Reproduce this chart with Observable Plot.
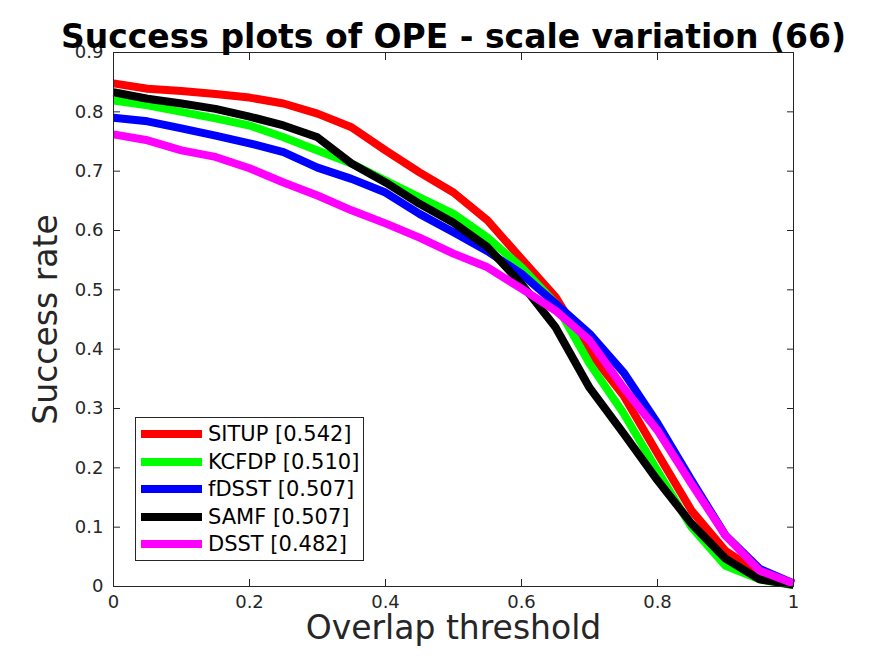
<!DOCTYPE html>
<html>
<head>
<meta charset="utf-8">
<script src="https://cdn.jsdelivr.net/npm/d3@7"></script>
<script src="https://cdn.jsdelivr.net/npm/@observablehq/plot@0.6"></script>
<style>
  html, body { margin: 0; padding: 0; background: #fff; }
  #wrap { position: relative; width: 875px; height: 656px; font-family: "DejaVu Sans", sans-serif; }
  #legend { position: absolute; left: 135px; top: 417px; width: 227px; height: 142px; border: 1px solid #262626; background: #fff; box-sizing: content-box; }
  .row { position: absolute; left: 0; height: 28px; display: flex; align-items: center; }
  .sw { width: 61px; height: 8px; margin-left: 5px; margin-right: 6px; }
  .lb { font-size: 21px; color: #000; white-space: nowrap; }
</style>
</head>
<body>
<div id="wrap"></div>
<script>
const thresholds = [0,0.05,0.1,0.15,0.2,0.25,0.3,0.35,0.4,0.45,0.5,0.55,0.6,0.65,0.7,0.75,0.8,0.85,0.9,0.95,1];
const trackers = ["SITUP","KCFDP","fDSST","SAMF","DSST"];
const scores = ["0.542","0.510","0.507","0.507","0.482"];
const colors = ["#ff0000","#00ff00","#0000ff","#000000","#ff00ff"];
const SITUP = [0.848,0.839,0.835,0.830,0.824,0.814,0.797,0.774,0.735,0.698,0.664,0.617,0.552,0.488,0.395,0.322,0.224,0.128,0.060,0.022,0.003];
const KCFDP = [0.819,0.811,0.800,0.789,0.777,0.757,0.735,0.713,0.684,0.656,0.628,0.588,0.538,0.477,0.376,0.292,0.195,0.100,0.035,0.012,0.002];
const fDSST = [0.790,0.784,0.772,0.760,0.747,0.732,0.706,0.687,0.664,0.628,0.597,0.565,0.527,0.477,0.426,0.361,0.275,0.179,0.086,0.030,0.005];
const SAMF  = [0.833,0.822,0.814,0.805,0.792,0.777,0.757,0.713,0.681,0.645,0.613,0.572,0.510,0.437,0.335,0.258,0.179,0.106,0.047,0.012,0.003];
const DSST  = [0.762,0.752,0.735,0.724,0.705,0.681,0.659,0.634,0.612,0.588,0.561,0.538,0.502,0.465,0.415,0.335,0.263,0.173,0.086,0.027,0.005];
const xTicks = [0,0.2,0.4,0.6,0.8,1];
const yTicks = [0,0.1,0.2,0.3,0.4,0.5,0.6,0.7,0.8,0.9];
const title = "Success plots of OPE - scale variation (66)";
const xLabel = "Overlap threshold";
const yLabel = "Success rate";

const series = [SITUP, KCFDP, fDSST, SAMF, DSST];
const data = [];
trackers.forEach((t, i) => series[i].forEach((v, j) => data.push({tracker: t, x: thresholds[j], y: v})));

const axisColor = "#262626";
const chart = Plot.plot({
  width: 875, height: 656,
  marginTop: 52, marginLeft: 113, marginRight: 82, marginBottom: 70,
  style: {fontFamily: "DejaVu Sans, sans-serif", background: "#fff", overflow: "visible"},
  x: {domain: [0, 1]},
  y: {domain: [0, 0.9]},
  color: {domain: trackers, range: colors},
  marks: [
    Plot.line(data, {x: "x", y: "y", z: "tracker", stroke: "tracker", strokeWidth: 8, strokeLinejoin: "round", strokeLinecap: "butt"}),
    Plot.frame({stroke: axisColor, strokeWidth: 1}),
    Plot.axisX(xTicks, {anchor: "bottom", tickSize: -7, tickFormat: () => "", stroke: axisColor, label: null}),
    Plot.axisX(xTicks, {anchor: "top", tickSize: -7, tickFormat: () => "", stroke: axisColor, label: null}),
    Plot.axisY(yTicks, {anchor: "left", tickSize: -7, tickFormat: () => "", stroke: axisColor, label: null}),
    Plot.axisY(yTicks, {anchor: "right", tickSize: -7, tickFormat: () => "", stroke: axisColor, label: null}),
    Plot.text(xTicks, {x: d => d, frameAnchor: "bottom", dy: 21, text: d => d3.format("~g")(d), fontSize: 18, fill: axisColor}),
    Plot.text(yTicks, {y: d => d, frameAnchor: "left", dx: -10, textAnchor: "end", text: d => d3.format("~g")(d), fontSize: 18, fill: axisColor}),
    Plot.text([title], {frameAnchor: "top", dy: -28, text: d => d, fontSize: 33, fontWeight: "bold", fill: "#000"}),
    Plot.text([xLabel], {frameAnchor: "bottom", dy: 52, text: d => d, fontSize: 33, fill: axisColor}),
    Plot.text([yLabel], {frameAnchor: "left", dx: -67, rotate: -90, textAnchor: "middle", text: d => d, fontSize: 33, fill: axisColor})
  ]
});
const wrap = document.getElementById("wrap");
wrap.appendChild(chart);

const legend = document.createElement("div");
legend.id = "legend";
trackers.forEach((t, i) => {
  const row = document.createElement("div");
  row.className = "row";
  row.style.top = (2 + i * 27.5) + "px";
  const sw = document.createElement("div");
  sw.className = "sw";
  sw.style.background = colors[i];
  const lb = document.createElement("div");
  lb.className = "lb";
  lb.textContent = `${t} [${scores[i]}]`;
  row.appendChild(sw); row.appendChild(lb);
  legend.appendChild(row);
});
wrap.appendChild(legend);
</script>
</body>
</html>
